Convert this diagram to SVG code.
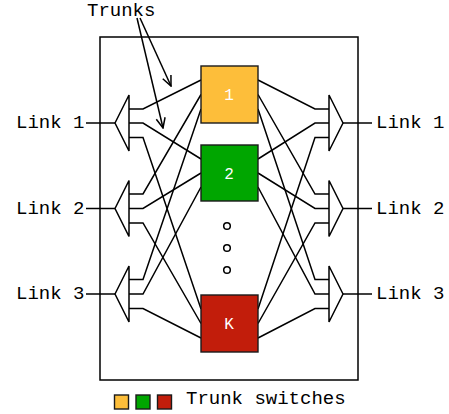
<svg xmlns="http://www.w3.org/2000/svg" width="449" height="414" viewBox="0 0 449 414">
  <style>
    .ln { fill: none; stroke: #000; stroke-width: 1.5; stroke-linejoin: miter; }
    .mux { fill: #fff; stroke: #000; stroke-width: 1.5; }
    .lbl { font-family: "Liberation Mono", "Courier New", monospace; font-size: 19px; fill: #000; }
    .sw { stroke: #1a1a1a; stroke-width: 1.4; }
    .swt { font-family: "Liberation Mono", "Courier New", monospace; font-size: 16px; fill: #fff; text-anchor: middle; }
    .y { fill: #FDBE3A; }
    .g { fill: #00A600; }
    .r { fill: #C21D0B; }
  </style>
  <defs>
    <marker id="open" viewBox="0 0 12 12" refX="11" refY="6" markerWidth="12" markerHeight="12" markerUnits="userSpaceOnUse" orient="auto">
      <path d="M1,1.5 L11,6 L1,10.5" fill="none" stroke="#000" stroke-width="1.5"/>
    </marker>
  </defs>

  <rect x="0" y="0" width="449" height="414" fill="#fff"/>

  <!-- enclosure -->
  <rect id="enclosure" x="100" y="37" width="258" height="343" fill="none" stroke="#000" stroke-width="1.5"/>

  <g id="connectors" class="ln">
    <!-- link feeds -->
    <line x1="86" y1="123" x2="115" y2="123"/>
    <line x1="86" y1="208.5" x2="115" y2="208.5"/>
    <line x1="86" y1="294" x2="115" y2="294"/>
    <line x1="343" y1="123" x2="372" y2="123"/>
    <line x1="343" y1="208.5" x2="372" y2="208.5"/>
    <line x1="343" y1="294" x2="372" y2="294"/>

    <!-- left muxes to switch inputs -->
    <polyline points="129,109 143,109 201,80"/>
    <polyline points="129,123 143,123 201,159"/>
    <polyline points="129,137.5 143,137.5 201,309"/>
    <polyline points="129,194 143,194 201,94.5"/>
    <polyline points="129,208.5 143,208.5 201,173"/>
    <polyline points="129,223 143,223 201,323.5"/>
    <polyline points="129,279.5 143,279.5 201,109"/>
    <polyline points="129,294 143,294 201,187"/>
    <polyline points="129,308.5 143,308.5 201,338"/>

    <!-- switch outputs to right muxes -->
    <polyline points="329,109 315,109 258,80"/>
    <polyline points="329,123 315,123 258,159"/>
    <polyline points="329,137.5 315,137.5 258,309"/>
    <polyline points="329,194 315,194 258,94.5"/>
    <polyline points="329,208.5 315,208.5 258,173"/>
    <polyline points="329,223 315,223 258,323.5"/>
    <polyline points="329,279.5 315,279.5 258,109"/>
    <polyline points="329,294 315,294 258,187"/>
    <polyline points="329,308.5 315,308.5 258,338"/>

    <!-- trunk pointers -->
    <line x1="137" y1="18" x2="163" y2="128" marker-end="url(#open)"/>
    <line x1="140" y1="18" x2="171" y2="86" marker-end="url(#open)"/>
  </g>

  <!-- left multiplexers -->
  <g id="mux-left-1"><polygon class="mux" points="115,123 129,95 129,151"/></g>
  <g id="mux-left-2"><polygon class="mux" points="115,208.5 129,180.5 129,236.5"/></g>
  <g id="mux-left-3"><polygon class="mux" points="115,294 129,266 129,322"/></g>

  <!-- right multiplexers -->
  <g id="mux-right-1"><polygon class="mux" points="343,123 329,95 329,151"/></g>
  <g id="mux-right-2"><polygon class="mux" points="343,208.5 329,180.5 329,236.5"/></g>
  <g id="mux-right-3"><polygon class="mux" points="343,294 329,266 329,322"/></g>

  <!-- trunk switches -->
  <g id="switch-1">
    <rect class="sw y" x="201" y="66" width="57" height="57"/>
    <text class="swt" x="229" y="100">1</text>
  </g>
  <g id="switch-2">
    <rect class="sw g" x="201" y="145" width="57" height="56"/>
    <text class="swt" x="229" y="178.5">2</text>
  </g>
  <g id="switch-k">
    <rect class="sw r" x="201" y="295" width="57" height="57"/>
    <text class="swt" x="229" y="329">K</text>
  </g>

  <!-- ellipsis -->
  <g id="ellipsis" fill="#fff" stroke="#000" stroke-width="1.5">
    <circle cx="227" cy="226" r="3.3"/>
    <circle cx="227" cy="248" r="3.3"/>
    <circle cx="227" cy="270" r="3.3"/>
  </g>

  <!-- labels -->
  <g id="labels">
    <text class="lbl" x="87" y="15.5">Trunks</text>
    <text class="lbl" x="16" y="128">Link 1</text>
    <text class="lbl" x="16" y="213.5">Link 2</text>
    <text class="lbl" x="16" y="299">Link 3</text>
    <text class="lbl" x="376" y="128">Link 1</text>
    <text class="lbl" x="376" y="213.5">Link 2</text>
    <text class="lbl" x="376" y="299">Link 3</text>
  </g>

  <!-- legend -->
  <g id="legend">
    <rect class="sw y" x="114.5" y="395" width="14" height="14"/>
    <rect class="sw g" x="136" y="395" width="14" height="14"/>
    <rect class="sw r" x="157.5" y="395" width="14" height="14"/>
    <text class="lbl" x="186" y="404">Trunk switches</text>
  </g>
</svg>
